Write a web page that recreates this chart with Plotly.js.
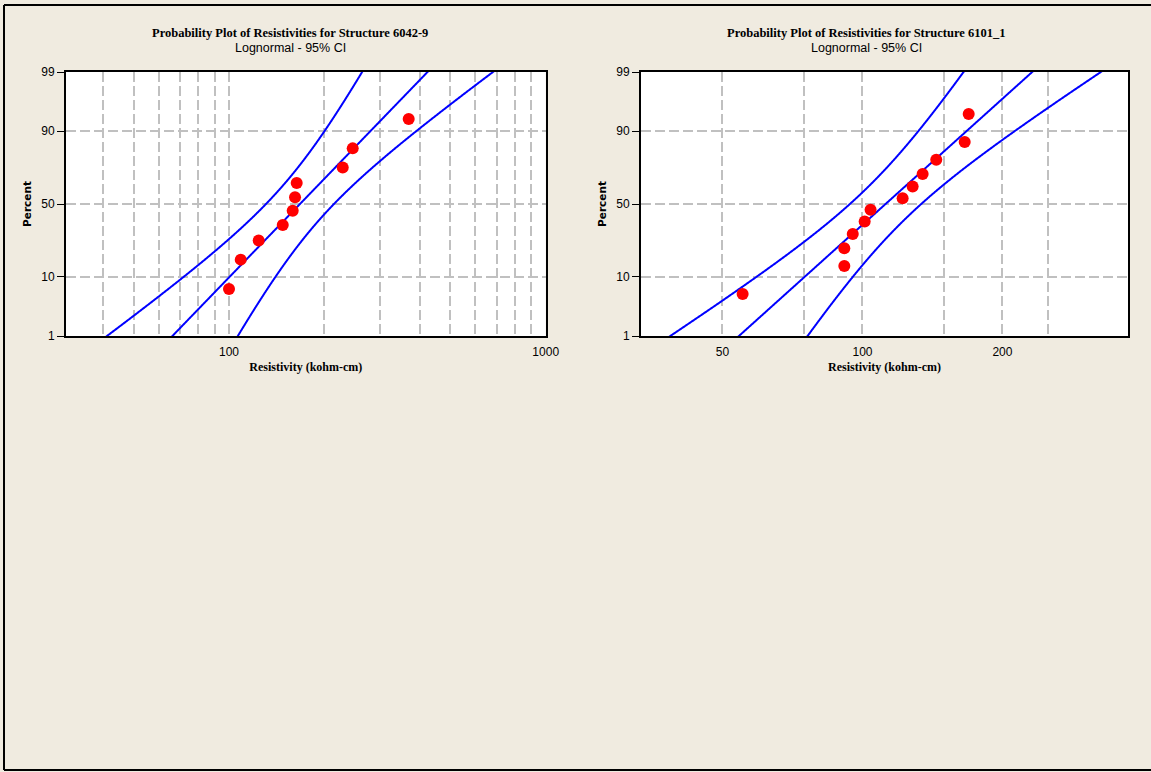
<!DOCTYPE html>
<html><head><meta charset="utf-8">
<script src="https://cdn.plot.ly/plotly-3.0.1.min.js"></script>
<style>html,body{margin:0;padding:0;background:#f0ebe0;} #chart{width:1151px;height:772px;}</style>
</head><body><div id="chart"></div>
<script>
// ---- Data ----
const resistivity6042 = [100.0, 108.9, 124.1, 147.8, 158.9, 161.6, 163.6, 228.6, 245.8, 369.3];
const resistivity6101 = [55.25, 91.4, 91.4, 95.3, 101.1, 104.1, 122.0, 128.2, 134.7, 144.1, 165.9, 169.2];
const percentTicks = [1, 10, 50, 90, 99];
const percentTickLabels = ['1', '10', '50', '90', '99'];
const xTicks6042 = [40, 50, 60, 70, 80, 90, 100, 200, 300, 400, 500, 600, 700, 800, 900, 1000];
const xTickLabels6042 = ['', '', '', '', '', '', '100', '', '', '', '', '', '', '', '', '1000'];
const xTicks6101 = [50, 75, 100, 150, 200, 250];
const xTickLabels6101 = ['50', '', '100', '', '200', ''];
const plotTitles = ['Probability Plot of Resistivities for Structure 6042-9', 'Probability Plot of Resistivities for Structure 6101_1'];
const subTitle = 'Lognormal - 95% CI';
const xTitle = 'Resistivity (kohm-cm)';
const yTitle = 'Percent';

// ---- Helpers ----
function normInv(p) {
  const a = [-3.969683028665376e+01, 2.209460984245205e+02, -2.759285104469687e+02, 1.383577518672690e+02, -3.066479806614716e+01, 2.506628277459239e+00];
  const b = [-5.447609879822406e+01, 1.615858368580409e+02, -1.556989798598866e+02, 6.680131188771972e+01, -1.328068155288572e+01];
  const c = [-7.784894002430293e-03, -3.223964580411365e-01, -2.400758277161838e+00, -2.549732539343734e+00, 4.374664141464968e+00, 2.938163982698783e+00];
  const d = [7.784695709041462e-03, 3.224671290700398e-01, 2.445134137142996e+00, 3.754408661907416e+00];
  const pl = 0.02425, ph = 1 - pl; let q, r;
  if (p < pl) { q = Math.sqrt(-2 * Math.log(p)); return (((((c[0]*q+c[1])*q+c[2])*q+c[3])*q+c[4])*q+c[5]) / ((((d[0]*q+d[1])*q+d[2])*q+d[3])*q+1); }
  if (p <= ph) { q = p - 0.5; r = q*q; return (((((a[0]*r+a[1])*r+a[2])*r+a[3])*r+a[4])*r+a[5])*q / (((((b[0]*r+b[1])*r+b[2])*r+b[3])*r+b[4])*r+1); }
  q = Math.sqrt(-2 * Math.log(1 - p)); return -(((((c[0]*q+c[1])*q+c[2])*q+c[3])*q+c[4])*q+c[5]) / ((((d[0]*q+d[1])*q+d[2])*q+d[3])*q+1);
}

function probTraces(vals, xa, ya) {
  const n = vals.length;
  const sorted = vals.slice().sort((a, b) => a - b);
  const zPts = sorted.map((v, i) => normInv((i + 1 - 0.3) / (n + 0.4)));
  const logs = sorted.map(v => Math.log(v));
  const mu = logs.reduce((s, v) => s + v, 0) / n;
  const sd = Math.sqrt(logs.reduce((s, v) => s + (v - mu) * (v - mu), 0) / (n - 1));
  const zz = [], fit = [], lo = [], hi = [];
  for (let k = -260; k <= 260; k++) {
    const z = k / 100; zz.push(z);
    const m = mu + z * sd;
    const hw = 1.959964 * sd * Math.sqrt(1 / n + z * z / (2 * n));
    fit.push(Math.exp(m)); lo.push(Math.exp(m - hw)); hi.push(Math.exp(m + hw));
  }
  const lineStyle = {color: '#0000ff', width: 2, simplify: false, shape: 'linear'};
  return [
    {x: lo, y: zz, type: 'scatter', mode: 'lines', line: lineStyle, xaxis: xa, yaxis: ya, hoverinfo: 'skip'},
    {x: hi, y: zz, type: 'scatter', mode: 'lines', line: lineStyle, xaxis: xa, yaxis: ya, hoverinfo: 'skip'},
    {x: fit, y: zz, type: 'scatter', mode: 'lines', line: lineStyle, xaxis: xa, yaxis: ya, hoverinfo: 'skip'},
    {x: sorted, y: zPts, type: 'scatter', mode: 'markers', marker: {color: '#ff0000', size: 12}, xaxis: xa, yaxis: ya, cliponaxis: false}
  ];
}

const W = 1151, H = 772;
const zMin = normInv(0.01), zMax = normInv(0.99);
const zTicks = percentTicks.map(p => normInv(p / 100));

const tickFont = {family: 'Liberation Sans, Arial, sans-serif', size: 12, color: '#000'};
const gridStyle = {showgrid: true, gridcolor: '#c0c0c0', gridwidth: 2, griddash: '10px,4px'};
function xAxis(dom, rng, tv, tt, anchor) {
  return Object.assign({
    domain: dom, type: 'log', range: rng, tickmode: 'array', tickvals: tv, ticktext: tt,
    showline: true, linecolor: '#000', linewidth: 2, mirror: true, ticks: 'outside', ticklen: 4, tickcolor: 'rgba(0,0,0,0)',
    zeroline: false, tickfont: tickFont, anchor: anchor,
    title: {text: xTitle, font: {family: 'Liberation Serif, Times New Roman, serif', size: 12, color: '#000', weight: 'bold'}, standoff: 4}
  }, gridStyle);
}
function yAxis(dom, anchor) {
  return Object.assign({
    domain: dom, range: [zMin, zMax], tickmode: 'array', tickvals: zTicks, ticktext: percentTickLabels,
    showline: true, linecolor: '#000', linewidth: 2, mirror: true, ticks: 'outside', ticklen: 7, tickwidth: 1, tickcolor: '#000',
    zeroline: false, tickfont: tickFont, anchor: anchor,
    title: {text: yTitle, font: {family: 'DejaVu Sans, sans-serif', size: 10.5, color: '#000', weight: 'bold'}, standoff: 8}
  }, gridStyle);
}
const yDom = [1 - 336 / H, 1 - 72 / H];
const titleFont = {family: 'Liberation Serif, Times New Roman, serif', size: 12.5, color: '#000'};
const subFont = {family: 'Liberation Sans, Arial, sans-serif', size: 12.5, color: '#000'};

const layout = {
  width: W, height: H, margin: {l: 0, r: 0, t: 0, b: 0},
  paper_bgcolor: '#f0ebe0', plot_bgcolor: '#ffffff', showlegend: false,
  xaxis: xAxis([66 / W, 545.7 / W], [1.4853, 3], xTicks6042, xTickLabels6042, 'y'),
  yaxis: yAxis(yDom, 'x'),
  xaxis2: xAxis([641 / W, 1128 / W], [Math.log10(33.4), Math.log10(372.4)], xTicks6101, xTickLabels6101, 'y2'),
  yaxis2: yAxis(yDom, 'x2'),
  annotations: [
    {text: '<b>' + plotTitles[0] + '</b>', xref: 'paper', yref: 'paper', x: 290 / W, y: 1 - 33 / H, showarrow: false, xanchor: 'center', yanchor: 'middle', font: titleFont},
    {text: subTitle, xref: 'paper', yref: 'paper', x: 290 / W, y: 1 - 48 / H, showarrow: false, xanchor: 'center', yanchor: 'middle', font: subFont},
    {text: '<b>' + plotTitles[1] + '</b>', xref: 'paper', yref: 'paper', x: 866 / W, y: 1 - 33 / H, showarrow: false, xanchor: 'center', yanchor: 'middle', font: titleFont},
    {text: subTitle, xref: 'paper', yref: 'paper', x: 866 / W, y: 1 - 48 / H, showarrow: false, xanchor: 'center', yanchor: 'middle', font: subFont}
  ],
  shapes: [
    {type: 'line', xref: 'paper', yref: 'paper', x0: 4 / W, x1: 1.01, y0: 1 - 5 / H, y1: 1 - 5 / H, line: {color: '#000', width: 2}},
    {type: 'line', xref: 'paper', yref: 'paper', x0: 4 / W, x1: 4 / W, y0: 1 - 5 / H, y1: 1 - 770 / H, line: {color: '#000', width: 2}},
    {type: 'line', xref: 'paper', yref: 'paper', x0: 4 / W, x1: 1.01, y0: 1 - 770 / H, y1: 1 - 770 / H, line: {color: '#000', width: 2}}
  ]
};

const data = probTraces(resistivity6042, 'x', 'y').concat(probTraces(resistivity6101, 'x2', 'y2'));
Plotly.newPlot('chart', data, layout, {staticPlot: true, displayModeBar: false});
</script>
</body></html>
